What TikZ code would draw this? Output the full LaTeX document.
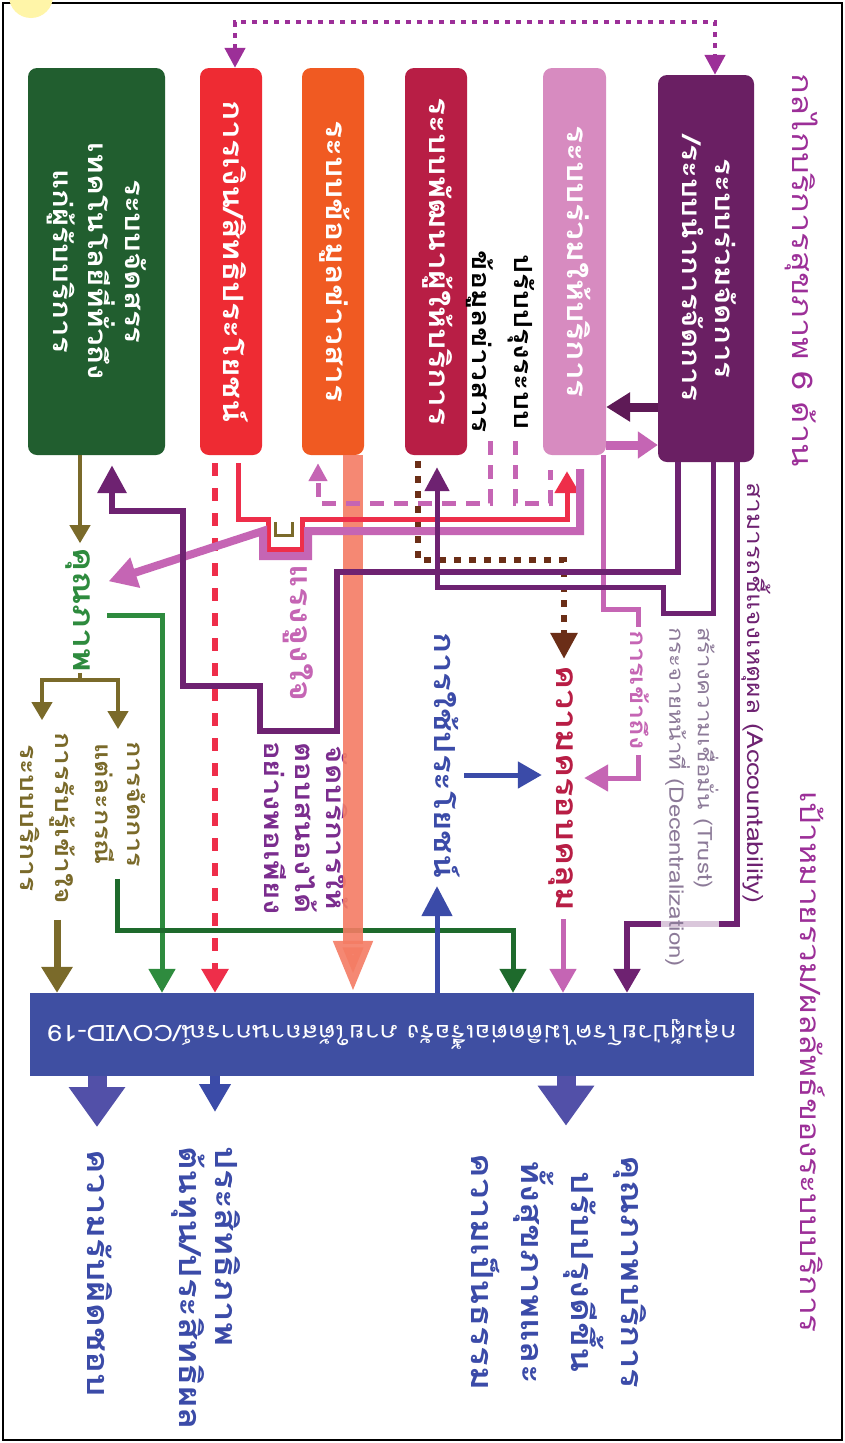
\documentclass[tikz,border=0pt]{standalone}
\usepackage{fontspec}
\usepackage{graphicx}
\usetikzlibrary{arrows.meta}
\newfontfamily\thaifont[Script=Thai, FakeStretch=1.2]{Loma}
\newcommand{\vlines}[2][c]{\rotatebox{-90}{\begin{tabular}{@{}#1@{}}#2\end{tabular}}}
\newcommand{\fsz}[2]{\fontsize{#1}{#2}\selectfont}
\definecolor{cG}{HTML}{215E2F}
\definecolor{cR}{HTML}{EE2B33}
\definecolor{cO}{HTML}{F05A22}
\definecolor{cC}{HTML}{B81E45}
\definecolor{cP}{HTML}{D78BC0}
\definecolor{cU}{HTML}{6A1F63}
\definecolor{cTitle}{HTML}{9C2F98}
\definecolor{cBar}{HTML}{3F4FA2}
\definecolor{cOut}{HTML}{5250A8}
\definecolor{cBlue}{HTML}{3B4BA8}
\definecolor{cOlive}{HTML}{7A6A2A}
\definecolor{cGrn}{HTML}{2E8B3E}
\definecolor{cDGrn}{HTML}{1E6A2C}
\definecolor{cRed}{HTML}{EE2E4A}
\definecolor{cSalmon}{HTML}{F47C64}
\definecolor{cPink}{HTML}{C565B4}
\definecolor{cPur}{HTML}{6E2271}
\definecolor{cDPur}{HTML}{5E1A56}
\definecolor{cBrown}{HTML}{6B2E17}
\definecolor{cGray}{HTML}{8C7A98}
\definecolor{cResp}{HTML}{7B2D8E}
\definecolor{cBadge}{HTML}{FFF5A8}
\tikzset{
  blk/.style={rounded corners=9pt, inner sep=0pt, text=white, font=\thaifont\bfseries\fsz{28}{34}},
  lbl/.style={inner sep=0pt, font=\thaifont\bfseries\fsz{30}{34}},
  olv/.style={draw=cOlive, line width=4pt},
  tipM/.style={-{Triangle[width=26pt,length=24pt]}},
  tipS/.style={-{Triangle[width=20pt,length=18pt]}},
}
\begin{document}
\begin{tikzpicture}[x=1pt,y=-1pt]
\useasboundingbox (0,0) rectangle (845,1443);
\fill[white] (0,0) rectangle (845,1443);
\draw[line width=2.5pt] (3,3) rectangle (842,1440);
\fill[cBadge] (31,-4) circle[radius=22pt];
\node[font=\bfseries\fsz{18}{18}] (badge) at (31,-8) {21};

% six building-block boxes
\node[blk, fill=cG, minimum width=137pt, minimum height=387pt, font=\thaifont\bfseries\fsz{26}{35}] (gbox) at (96.5,261.5)
  {\vlines{ระบบจัดสรร\\เทคโนโลยีที่ทั่วถึง\\แก่ผู้รับบริการ}};
\node[blk, fill=cR, minimum width=62pt, minimum height=387pt] (rbox) at (231,261.5)
  {\vlines{การเงิน/สิทธิประโยชน์}};
\node[blk, fill=cO, minimum width=62pt, minimum height=387pt] (obox) at (333,261.5)
  {\vlines{ระบบข้อมูลข่าวสาร}};
\node[blk, fill=cC, minimum width=62pt, minimum height=387pt] (cbox) at (436,261.5)
  {\vlines{ระบบพัฒนาผู้ให้บริการ}};
\node[blk, fill=cP, minimum width=63pt, minimum height=387pt] (pbox) at (574.5,261.5)
  {\vlines{ระบบร่วมให้บริการ}};
\node[blk, fill=cU, minimum width=96pt, minimum height=387pt, font=\thaifont\bfseries\fsz{26}{33}] (ubox) at (706,268.5)
  {\vlines{ระบบร่วมจัดการ\\/ระบบนำการจัดการ}};

% titles
\node[lbl, text=cTitle, font=\thaifont\fsz{28.5}{34}] (ttl) at (800,270) {\vlines{กลไกบริการสุขภาพ 6 ด้าน}};
\node[lbl, text=cTitle, font=\thaifont\fsz{28}{34}] (goal) at (808,1062) {\vlines{เป้าหมายรวม/ผลลัพธ์ของระบบบริการ}};

% labels in the middle
\node[lbl, text=black, font=\thaifont\bfseries\fsz{25}{42}] (upd) at (502,342) {\vlines{ปรับปรุงระบบ\\ข้อมูลข่าวสาร}};
\node[lbl, text=cGrn] (qual) at (80,610) {\vlines{คุณภาพ}};
\node[lbl, text=cOlive, font=\thaifont\bfseries\fsz{22.5}{32}] (casem) at (118,804) {\vlines{การจัดการ\\แต่ละกรณี}};
\node[lbl, text=cOlive, font=\thaifont\bfseries\fsz{23.5}{35}] (aware) at (45,818) {\vlines{การรับรู้เข้าใจ\\ระบบบริการ}};
\node[lbl, text=cPink] (motiv) at (297,633) {\vlines{แรงจูงใจ}};
\node[lbl, text=cResp, font=\thaifont\bfseries\fsz{26}{30}] (resp) at (302,828) {\vlines{จัดบริการให้\\ตอบสนองได้\\อย่างพอเพียง}};
\node[lbl, text=cBlue, font=\thaifont\bfseries\fsz{29}{34}] (use) at (442,755) {\vlines{การใช้ประโยชน์}};
\node[lbl, text=cC] (cover) at (563,788) {\vlines{ความครอบคลุม}};
\node[lbl, text=cPink, font=\thaifont\bfseries\fsz{22.5}{30}] (access) at (636,690) {\vlines{การเข้าถึง}};
\node[lbl, text=cPur, font=\thaifont\fsz{22}{26}] (acct) at (755,693) {\vlines{สามารถชี้แจงเหตุผล (Accountability)}};

% health-system bar
\node[fill=cBar, minimum width=724pt, minimum height=83pt, inner sep=0pt, text=white,
      font=\thaifont\fsz{22.5}{26}] (bar) at (392,1034.5)
  {\rotatebox{180}{กลุ่มผู้ป่วยโรคไม่ติดต่อเรื้อรัง ภายใต้สถานการณ์/COVID-19}};

% outcomes
\node[lbl, text=cBlue, anchor=north, font=\thaifont\bfseries\fsz{30.5}{34}] (o1) at (95,1149) {\vlines{ความรับผิดชอบ}};
\node[lbl, text=cBlue, anchor=north, font=\thaifont\bfseries\fsz{30.5}{36}] (o2) at (205,1146) {\vlines[l]{ประสิทธิภาพ\\ต้นทุน/ประสิทธิผล}};
\node[lbl, text=cBlue, font=\thaifont\bfseries\fsz{30.5}{50}] (o3) at (556,1272) {\vlines{คุณภาพบริการ\\ปรับปรุงดีขึ้น\\ทั้งสุขภาพและ\\ความเป็นธรรม}};

% helper points for the connectors
\coordinate (tl) at (235,22); \coordinate (tr) at (715,22);
\coordinate (brL) at (42,680); \coordinate (brR) at (118,680);
\coordinate (ol) at (57,0); \coordinate (gr) at (162,615);
\coordinate (dg1) at (117,930); \coordinate (dg2) at (513,930);
\coordinate (rd) at (215,0); \coordinate (sl) at (353,0);
\coordinate (bu) at (437,0); \coordinate (by) at (0,775);
\coordinate (bd1) at (418,560); \coordinate (bd2) at (564,560);
\coordinate (pa0) at (678,0); \coordinate (pa5) at (112,0);
\coordinate (pb0) at (713,0); \coordinate (pc0) at (737,0); \coordinate (pu) at (627,0);
\coordinate (ac0) at (603,0); \coordinate (ac1) at (638,609); \coordinate (ac2) at (638,778);
\coordinate (pk) at (0,445); \coordinate (pv) at (0,407);
\coordinate (rs0) at (238,0); \coordinate (rs1) at (567,519);
\coordinate (pt0) at (580,0);
\coordinate (pd1) at (490,503); \coordinate (pd2) at (318,503);
\coordinate (pd3) at (515,503); \coordinate (pd4) at (550,503);
\coordinate (x97) at (97,0); \coordinate (x215) at (215,0); \coordinate (x566) at (566,0);

% dotted link between finance and governance
\draw[draw=cTitle, line width=4.5pt, dash pattern=on 5pt off 6pt,
      {Triangle[width=20pt,length=20pt]}-{Triangle[width=20pt,length=20pt]}]
  (tl |- rbox.north) -- (tl) -- (tr) -- (tr |- ubox.north);

% olive: quality branch
\draw[olv, tipS, shorten >=4pt] (qual.north |- gbox.south) -- (qual.north);
\draw[olv] (qual.south) -- (qual.south |- brL);
\draw[olv, {Triangle[width=20pt,length=18pt]}-{Triangle[width=20pt,length=18pt]}, shorten <=12pt, shorten >=12pt]
  (brL |- aware.north) -- (brL) -- (brR) -- (brR |- casem.north);
\draw[olv, line width=7pt, -{Triangle[width=30pt,length=26pt]}, shorten <=16pt] (aware.south -| ol) -- (bar.north -| ol);

% green lines into the bar
\draw[draw=cGrn, line width=5pt, tipM, shorten <=10pt] (qual.east |- gr) -- (gr) -- (gr |- bar.north);
\draw[draw=cDGrn, line width=5pt, tipM, shorten <=12pt] (casem.south -| dg1) -- (dg1) -- (dg2) -- (dg2 |- bar.north);

% finance dashed
\draw[draw=cRed, line width=6pt, dash pattern=on 13pt off 12pt, tipM, shorten <=8pt] (rbox.south -| rd) -- (bar.north -| rd);

% information flow
\draw[draw=cSalmon, line width=20pt, opacity=.9, -{Triangle[width=36pt,length=52pt]}] (obox.south -| sl) -- (bar.north -| sl);

% utilisation
\draw[draw=cBlue, line width=5pt, -{Triangle[width=30pt,length=30pt]}, shorten >=8pt] (bar.north -| bu) -- (use.south -| bu);
\draw[draw=cBlue, line width=5pt, tipM, shorten <=4pt, shorten >=4pt] (use.east |- by) -- (cover.west |- by);

% brown dotted from workforce
\draw[draw=cBrown, line width=6pt, dash pattern=on 7pt off 8pt, -{Triangle[width=26pt,length=26pt]}, shorten <=6pt, shorten >=6pt]
  (cbox.south -| bd1) -- (bd1) -- (bd2) -- (bd2 |- cover.north);

% red finance line with hop
\draw[draw=cRed, line width=5pt, -{Triangle[width=24pt,length=22pt]}, shorten <=8pt, shorten >=16pt]
  (rbox.south -| rs0) -- (238,519) -- (268,519) -- (268,549) -- (302,549) -- (302,519) -- (rs1) -- (rs1 |- pbox.south);

% pink service line with hop to quality
\draw[draw=cPink, line width=8pt, -{Triangle[width=30pt,length=28pt]}, shorten <=14pt, shorten >=12pt]
  (pbox.south -| pt0) -- (580,531) -- (308,531) -- (308,556) -- (263,556) -- (263,531) -- ([yshift=25pt]qual.east);
\draw[olv, line width=3pt] (275,522) -- (275,535) -- (292,535) -- (292,522);

% pink dashed links
\draw[draw=cPink, line width=5pt, dash pattern=on 14pt off 10pt, -{Triangle[width=18pt,length=18pt]}, shorten <=8pt, shorten >=8pt]
  (upd.south -| pd1) -- (pd1) -- (pd2) -- (pd2 |- obox.south);
\draw[draw=cPink, line width=5pt, dash pattern=on 14pt off 10pt, shorten <=8pt, shorten >=15pt]
  (upd.south -| pd3) -- (pd3) -- (pd4) -- (pd4 |- pbox.south);

% access line
\draw[draw=cPink, line width=5pt, shorten >=4pt] (pbox.south -| ac0) |- (ac1) -- (ac1 |- access.north);
\draw[draw=cPink, line width=5pt, tipM, shorten <=6pt, shorten >=4pt] (access.south -| ac2) -- (ac2) -- (cover.east |- ac2);
\draw[draw=cPink, line width=5pt, tipM, shorten <=8pt] (cover.south) -- (cover.south |- bar.north);

% arrows between service and governance boxes
\draw[draw=cPink, line width=9pt, -{Triangle[width=26pt,length=20pt]}] (pbox.east |- pk) -- (ubox.west |- pk);
\draw[draw=cDPur, line width=9pt, -{Triangle[width=28pt,length=24pt]}] (ubox.west |- pv) -- (pbox.east |- pv);

% governance lines
\draw[draw=cPur, line width=6.5pt, -{Triangle[width=28pt,length=28pt]}, shorten >=10pt]
  (ubox.south -| pa0) |- (337,572) |- (260,731) |- (183,686) |- (112,511) -- (gbox.south -| pa5);
\draw[draw=cPur, line width=5pt, -{Triangle[width=24pt,length=24pt]}, shorten >=12pt]
  (ubox.south -| pb0) |- (663,613) |- (437,587) -- (cbox.south -| bu);
\draw[draw=cPur, line width=5.5pt, tipM] (ubox.south -| pc0) |- (627,924) -- (bar.north -| pu);

\node[inner sep=1pt, anchor=north, fill=white, fill opacity=.75, text opacity=1, text=cGray,
      font=\thaifont\fsz{20}{26}] (trust) at (690,626)
  {\vlines[l]{สร้างความเชื่อมั่น (Trust)\\กระจายหน้าที่ (Decentralization)}};

% outcome arrows
\draw[draw=cOut, line width=19pt, -{Triangle[width=54pt,length=40pt]}, shorten >=22pt] (bar.south -| x97) -- (o1.north -| x97);
\draw[draw=cBlue, line width=10pt, -{Triangle[width=30pt,length=28pt]}, shorten >=34pt] (bar.south -| x215) -- (o2.north -| x215);
\draw[draw=cOut, line width=19pt, -{Triangle[width=54pt,length=40pt]}, shorten >=28pt] (bar.south -| x566) -- (o3.north -| x566);
\end{tikzpicture}
\end{document}
